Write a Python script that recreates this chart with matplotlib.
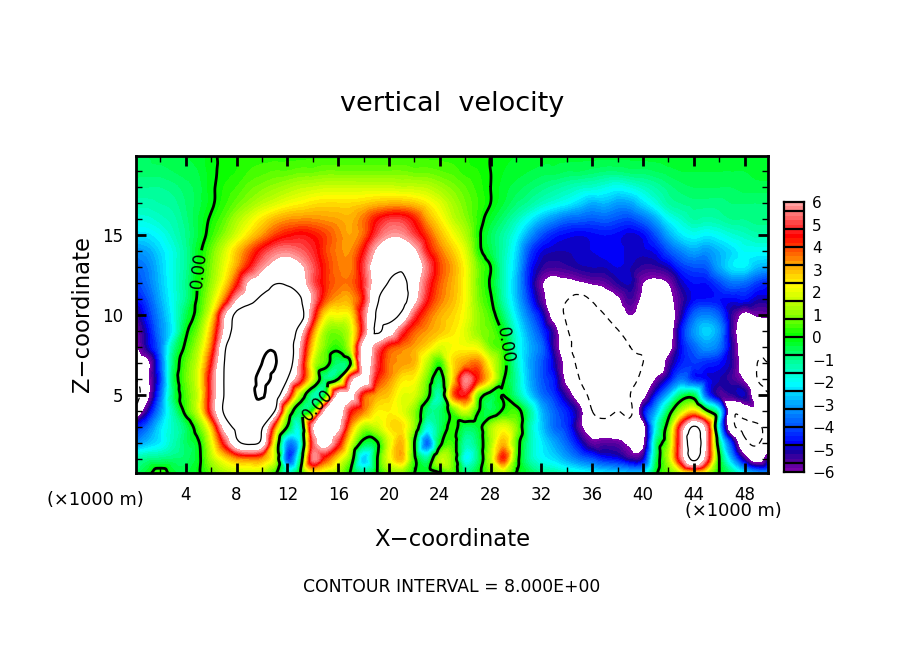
import numpy as np
import matplotlib
matplotlib.use('Agg')
import matplotlib.pyplot as plt
import matplotlib.tri as mtri
from matplotlib.colors import LinearSegmentedColormap, BoundaryNorm

# vertical velocity, one list per height, x = 0..50 km
x_km = list(range(51))
z_km = [0.1, 1, 2, 3, 4, 5, 6, 7, 8, 9, 10, 11, 12, 13, 14, 15, 16, 17, 18, 19, 19.95]

w_z00 = [-0.8,-0.2,0.4,-0.3,-0.4,-0.1,0.6,1.2,1.4,1.5,1.4,0.2,-1.5,-0.1,2,1.5,1,-0.1,-1,-0.1,0.8,1,0,-0.4,-0.1,0.5,-0.9,-0.3,0.8,1.5,0,-0.5,-1,-1.2,-1.5,-1.8,-2,-2.2,-2.4,-2.6,-2.4,-0.2,0.6,1.5,2,1.5,0,-1,-2.2,-3,-3]
w_z01 = [-1.3,-1,-0.9,-0.8,-0.7,-0.2,1.3,2.4,3.2,3.4,3.2,1.6,-4,-1,5.5,4,2.4,0.6,-2.6,-0.2,2,3,0.2,-1,1.5,0.8,-2,-0.9,1.5,4.2,0.5,-1.2,-2,-2.4,-3,-3.6,-4,-4.5,-4.7,-5.3,-5,-0.8,1.4,5.3,8.4,5.3,0,-3,-5.4,-6.8,-5]
w_z02 = [-3.4,-2.7,-2.2,-1.4,-0.7,-0.1,1.9,4.6,7.5,8.3,7.4,1.8,-3.2,-2,5,6.8,4.7,1.8,-0.4,-0.2,1.8,3,0,-3.8,-0.3,0.4,-1.3,-0.7,1.2,3,0.6,-1.2,-2.2,-3,-3.8,-4.8,-5.7,-5.6,-5.7,-6.3,-6.4,-1.1,1,5.5,9.5,5.8,-0.9,-4.5,-7.5,-8.2,-6]
w_z03 = [-4.7,-3.7,-2.4,-1.5,-0.7,0.6,2.8,6.6,8.5,9,8.2,3.6,-0.1,-1.5,6,7.2,6.5,3.2,1.3,1.6,2.5,2.6,1,-1.8,-0.8,0.3,-0.6,-0.4,1.2,2,1,-1.2,-2.6,-3.7,-4.3,-5.7,-7,-7.3,-7.2,-7.5,-6.6,-2,0.6,5,8.2,5.5,-2.5,-7.4,-8.5,-8.4,-7]
w_z04 = [-7.6,-5.2,-3.2,-1.3,0.3,1.8,5,8.2,10,11.5,10,8,1.5,-0.8,0.2,6.8,7,4.5,3.5,2.4,2.4,2,1,-0.8,-0.8,0.5,1.8,0.1,-0.6,0.1,0.4,-1,-2.8,-3.8,-4.5,-5.6,-8,-8.5,-8,-8.2,-5,-3,-0.6,1.4,2.6,0.3,-2,-7.5,-7,-6.3,-7]
w_z05 = [-9,-6.4,-3.8,-0.8,0.5,1.8,5,8,10,14,16.8,10,5.5,1.2,-1.2,-0.1,6.8,6.6,4,3.2,2.8,2,1.8,0.4,-1.3,3.5,4.5,0.8,-0.4,0,-1,-2.4,-3.6,-4.3,-5.4,-7,-8.5,-9,-8.5,-8,-6.5,-4.6,-2.8,-0.8,-0.6,-4,-5.4,-5.3,-5,-7.2,-8]
w_z06 = [-8.2,-6.3,-4.2,-0.7,0.7,2,5,8,10,13.5,17.5,14.5,8,5,1.8,-0.9,0,5.5,7,4.4,3.4,2.5,2.3,0.8,-0.6,2.5,5.6,4.2,2.4,0.1,-1.2,-2.8,-3.9,-4.6,-6.4,-8,-9.5,-9.5,-8.5,-8.5,-7.5,-6,-4.8,-3.6,-4.4,-4.7,-5,-5.4,-6.2,-8,-8.5]
w_z07 = [-7,-6.3,-4,-0.8,0.6,1.8,4.4,7.9,10,13,16,16.5,10,5.5,1.8,0.5,-0.8,0.1,7,5,3.6,3.3,3,1.5,0.3,2.5,3.3,3.6,2,0.4,-1.4,-2.9,-3.9,-5,-6.6,-8.6,-9.5,-9.7,-8.3,-8.5,-8,-7.6,-5.6,-4.5,-4.2,-4.4,-4.6,-5.2,-6.8,-8,-8]
w_z08 = [-6.3,-5,-3.6,-1.2,0.2,1.4,3.6,7.5,10,12,14.5,15.2,10,6,2.6,0.8,0.3,1.8,6.8,5.5,4.1,3.6,3.2,2.6,1.9,2.2,2.2,2,0.8,0.2,-1.6,-2.8,-3.7,-5.4,-7.2,-9.2,-9.5,-9.4,-9.3,-8,-7.8,-7.4,-6.6,-4.7,-3.8,-3.2,-3.6,-5.2,-7,-7.5,-7.5]
w_z09 = [-6,-4.8,-3.4,-2.1,-0.2,0.9,3,6.3,9,10,11,11,10,7,3.5,1.2,0.9,1.8,5,8.2,7,5,3.8,3.3,2.9,2.5,1.9,1.1,0.7,-0.2,-1.8,-3.1,-4.2,-5.5,-7.8,-9,-9.2,-8.4,-8.1,-7,-7.6,-7.5,-6.8,-4.6,-3.2,-2.5,-3.2,-5.4,-7,-7,-7]
w_z10 = [-5.5,-4.4,-3.2,-2,-0.6,0.4,2.2,5.8,8.5,9.5,10,10,10,9,5,2.4,2.2,2.4,5.2,8.1,8.8,7.6,5,3.8,3.1,2.7,2.1,1.1,0.4,-0.8,-2.3,-3.6,-4.8,-6.7,-8.3,-9,-8.8,-8,-7,-6,-7,-7.5,-7,-5.2,-3.8,-3.4,-3.9,-5.3,-6.3,-5.9,-5.8]
w_z11 = [-4.7,-4,-2.9,-1.9,-1,0.2,1.5,3.4,6,7.2,8.4,9,9,8.2,5.8,3.9,3.2,3.2,4.5,7.6,9,8.9,6.6,4.6,3.6,3,2.2,0.9,0.1,-1.3,-2.7,-4.2,-5.6,-7,-7.9,-8.5,-7.8,-6.8,-6.2,-5.4,-6.3,-7,-6.4,-5.4,-4.7,-4.6,-4.6,-4.7,-4.6,-5,-5]
w_z12 = [-4.2,-3.6,-2.7,-1.8,-1,0.1,1.1,2.4,4.2,6.3,7,7.9,7.8,6.8,5.2,4.2,3.7,3.7,4.8,6.8,8.1,8.6,6.8,5,3.8,3.1,2.2,0.8,-0.1,-1.4,-2.8,-4.5,-5.9,-6.5,-6.4,-6.2,-5.9,-5.7,-5.2,-5,-6,-6.3,-6,-5,-4.6,-4.6,-4.1,-3.6,-3.7,-4.2,-4.5]
w_z13 = [-3.8,-3.4,-2.6,-1.8,-1.1,-0.1,0.9,2,3.2,4.5,5.7,6.5,6.8,6.3,5.2,4.2,3.6,3.5,5,7,7.6,7.8,7.3,5.4,4,3.2,2.2,0.8,0,-1.4,-2.6,-4.4,-5.2,-5.4,-5.3,-5.1,-5,-5,-4.8,-5,-5.3,-5.3,-5,-4.3,-4,-3.9,-3,-2.3,-2.2,-2.8,-3]
w_z14 = [-3.2,-3,-2.4,-1.8,-1.1,-0.2,0.7,1.7,2.8,3.8,4.7,5.4,5.6,5.3,4.8,4,3.5,3.4,4.5,6.2,7.2,7.2,6.3,4.6,3.6,2.8,1.9,0.3,-0.5,-1.3,-2.4,-4,-4.8,-5,-5,-4.9,-4.8,-4.7,-4.7,-4.9,-4.9,-4.7,-4,-3.4,-3,-3.2,-2.8,-2.4,-2,-2,-2]
w_z15 = [-2.4,-2.3,-2,-1.5,-1,-0.4,0.3,1,1.8,2.6,3.3,4,4.4,4.6,4.4,4,3.5,3.2,3.7,5,5.8,5.8,5,4,3,2.2,1.4,0.2,-0.6,-1.2,-2,-3.1,-4,-4.5,-4.7,-4.8,-4.7,-4.6,-4.7,-4.9,-4.7,-4,-3,-2.3,-2,-2.2,-2,-1.7,-1.5,-1.3,-1.3]
w_z16 = [-1.8,-1.7,-1.5,-1.3,-0.9,-0.4,0.1,0.6,1.3,1.9,2.5,3,3.3,3.4,3.4,3.3,3.2,3.1,3.6,4.4,4.9,4.9,4.3,3.2,2.4,1.6,1,0.3,-0.3,-0.8,-1.4,-2.1,-2.8,-3.3,-3.7,-3.8,-3.9,-3.8,-4,-4.1,-3.7,-3,-2.1,-1.6,-1.2,-1.3,-1.2,-1,-1,-0.9,-0.9]
w_z17 = [-1.3,-1.3,-1.2,-1.1,-0.8,-0.5,-0.1,0.3,0.7,1.1,1.5,1.8,2.1,2.3,2.5,2.6,2.6,2.6,2.7,2.9,3,3,2.8,2.4,1.9,1.3,0.8,0.4,0,-0.4,-0.8,-1.1,-1.5,-1.8,-2.1,-2.5,-2.9,-2.8,-3.1,-3,-2.4,-1.8,-1.2,-1,-0.9,-0.9,-0.9,-0.8,-0.8,-0.8,-0.8]
w_z18 = [-1,-1,-1,-0.9,-0.7,-0.5,-0.1,0.2,0.4,0.7,0.9,1.1,1.3,1.5,1.6,1.7,1.7,1.7,1.7,1.7,1.7,1.6,1.6,1.5,1.2,0.9,0.6,0.3,0,-0.3,-0.5,-0.7,-0.9,-1.1,-1.3,-1.5,-1.6,-1.8,-2,-1.8,-1.5,-1.2,-0.9,-0.7,-0.6,-0.6,-0.6,-0.6,-0.5,-0.5,-0.5]
w_z19 = [-0.7,-0.7,-0.7,-0.6,-0.5,-0.4,-0.1,0.1,0.2,0.4,0.5,0.6,0.6,0.7,0.7,0.8,0.8,0.8,0.8,0.8,0.8,0.8,0.7,0.7,0.6,0.5,0.3,0.2,0,-0.2,-0.3,-0.4,-0.5,-0.5,-0.6,-0.6,-0.7,-0.8,-0.8,-0.7,-0.7,-0.6,-0.5,-0.4,-0.4,-0.4,-0.4,-0.4,-0.4,-0.3,-0.3]
w_z20 = [-0.6,-0.6,-0.5,-0.5,-0.4,-0.3,-0.1,0.1,0.2,0.3,0.3,0.3,0.3,0.3,0.3,0.3,0.3,0.3,0.3,0.3,0.3,0.3,0.3,0.3,0.3,0.3,0.2,0.1,0,-0.1,-0.2,-0.2,-0.3,-0.3,-0.3,-0.3,-0.3,-0.3,-0.3,-0.3,-0.3,-0.3,-0.2,-0.2,-0.2,-0.2,-0.2,-0.2,-0.2,-0.2,-0.2]

x_ticks = [4, 8, 12, 16, 20, 24, 28, 32, 36, 40, 44, 48]
z_ticks = [5, 10, 15]
bar_ticks = [-6, -5, -4, -3, -2, -1, 0, 1, 2, 3, 4, 5, 6]

cmap_stops = [(0.00, '#7a00aa'), (0.03, '#50009c'), (0.07, '#1400a0'), (0.10, '#0000ff'),
              (0.17, '#005aff'), (0.25, '#00aaff'), (0.325, '#00ffff'), (0.42, '#00ff88'),
              (0.50, '#00ff00'), (0.58, '#88ff00'), (0.69, '#ffff00'), (0.77, '#ffa800'),
              (0.88, '#ff0000'), (0.95, '#ff6464'), (1.00, '#ffa0a0')]
cmap = LinearSegmentedColormap.from_list('wcolors', cmap_stops, N=256)

W, H = 904, 654
fig = plt.figure(figsize=(W / 100, H / 100), dpi=100)
ax = fig.add_axes([136 / W, 1 - 473 / H, (768 - 136) / W, (473 - 156) / H])

w = np.array([w_z00, w_z01, w_z02, w_z03, w_z04, w_z05, w_z06, w_z07, w_z08, w_z09, w_z10,
              w_z11, w_z12, w_z13, w_z14, w_z15, w_z16, w_z17, w_z18, w_z19, w_z20])
xg, zg = np.meshgrid(x_km, z_km)
triang = mtri.Triangulation(xg.ravel(), zg.ravel())
refiner = mtri.UniformTriRefiner(triang)
interp = mtri.CubicTriInterpolator(triang, w.ravel(), kind='geom')
fine_tri, fine_w = refiner.refine_field(w.ravel(), triinterpolator=interp, subdiv=3)

levels = np.arange(-6, 6.01, 0.2)
norm = BoundaryNorm(levels, cmap.N)
ax.tricontourf(fine_tri, fine_w, levels=levels, cmap=cmap, norm=norm)

ax.tricontour(fine_tri, fine_w, levels=[8], colors='k', linewidths=0.9)
ax.tricontour(fine_tri, fine_w, levels=[-8], colors='k', linewidths=0.9, linestyles=[(0, (5, 4))])
ax.tricontour(fine_tri, fine_w, levels=[16], colors='k', linewidths=2)
cs = ax.tricontour(fine_tri, fine_w, levels=[0], colors='k', linewidths=2)
ax.clabel(cs, fmt='%.2f', fontsize=12, inline=True, inline_spacing=2,
          manual=[(4.9, 12.8), (14.6, 4.25), (29.0, 8.1)])

ax.set_xlim(0.08, 49.84)
ax.set_ylim(0.125, 19.94)
ax.set_xticks(x_ticks)
ax.set_xticks(range(2, 50, 4), minor=True)
ax.set_yticks(z_ticks)
ax.set_yticks([v for v in range(1, 20) if v % 5], minor=True)
ax.tick_params(which='major', direction='in', top=True, right=True, length=7, width=2,
               labelsize=12, pad=9)
ax.tick_params(which='minor', direction='in', top=True, right=True, length=4, width=1)
for side in ax.spines.values():
    side.set_linewidth(2)
ax.set_xlabel('X\u2212coordinate', fontsize=16.4, labelpad=18)
ax.set_ylabel('Z\u2212coordinate', fontsize=16.4, labelpad=6)

# colour bar, shaded in the same steps, black lines every 0.8
cax = fig.add_axes([784 / W, 1 - 472 / H, 20 / W, (472 - 202) / H])
bar_y = levels
cax.pcolormesh([0, 1], bar_y, ((levels[:-1] + levels[1:]) / 2)[:, None], cmap=cmap, norm=norm)
cax.hlines(np.arange(-5.6, 5.61, 0.8), 0, 1, colors='k', linewidth=1.6)
cax.set_xticks([])
cax.set_yticks(bar_ticks)
cax.yaxis.tick_right()
cax.tick_params(length=0, labelsize=11, pad=6)
for side in cax.spines.values():
    side.set_linewidth(1.6)

fig.text(452 / W, 1 - 104 / H, 'vertical  velocity', fontsize=19.5, ha='center', va='center')
fig.text(95 / W, 1 - 500 / H, '(\u00d71000 m)', fontsize=12.8, ha='center', va='center')
fig.text(733 / W, 1 - 511 / H, '(\u00d71000 m)', fontsize=12.8, ha='center', va='center')
fig.text(452 / W, 1 - 587 / H, 'CONTOUR INTERVAL = 8.000E+00', fontsize=12.4, ha='center', va='center')

fig.savefig('out.png', dpi=100)
